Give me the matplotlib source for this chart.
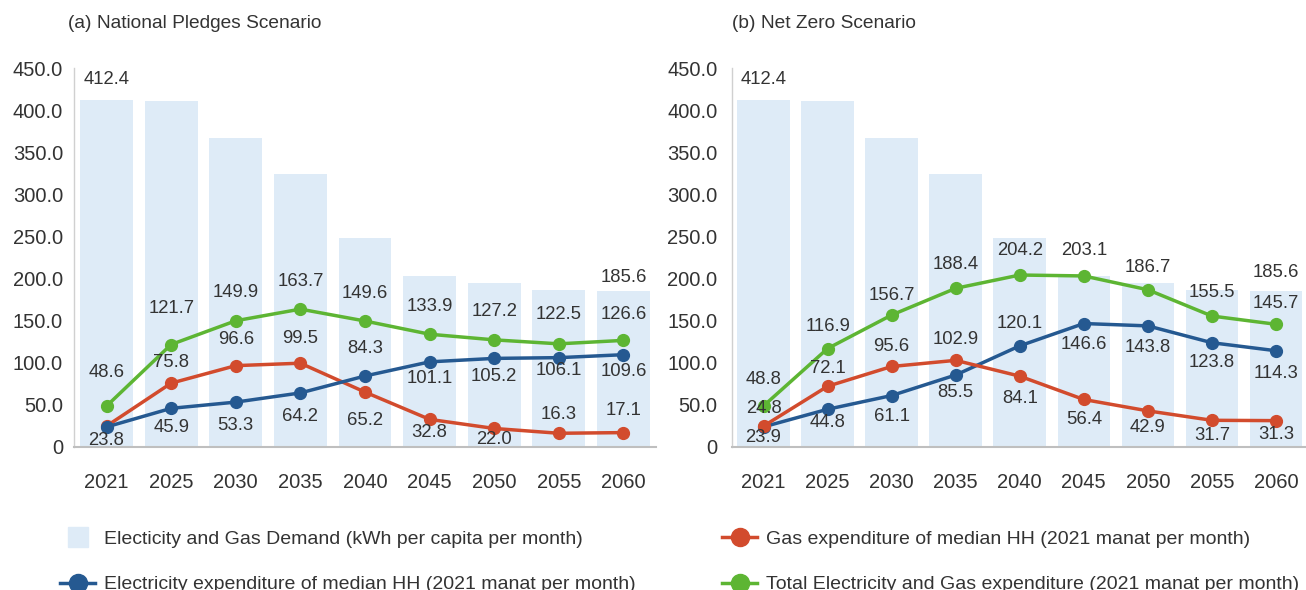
import matplotlib
matplotlib.use("Agg")
import matplotlib.pyplot as plt
from matplotlib.lines import Line2D

plt.rcParams['font.family'] = ['Liberation Sans', 'DejaVu Sans']

# categories and series
years = ["2021", "2025", "2030", "2035", "2040", "2045", "2050", "2055", "2060"]
demand = [412.4, 410.3, 366.3, 324.3, 248.5, 203.2, 195.0, 186.0, 185.6]

np_elec = [23.8, 45.9, 53.3, 64.2, 84.3, 101.1, 105.2, 106.1, 109.6]
np_gas = [24.8, 75.8, 96.6, 99.5, 65.2, 32.8, 22.0, 16.3, 17.1]
np_total = [48.6, 121.7, 149.9, 163.7, 149.6, 133.9, 127.2, 122.5, 126.6]

nz_elec = [23.9, 44.8, 61.1, 85.5, 120.1, 146.6, 143.8, 123.8, 114.3]
nz_gas = [24.8, 72.1, 95.6, 102.9, 84.1, 56.4, 42.9, 31.7, 31.3]
nz_total = [48.8, 116.9, 156.7, 188.4, 204.2, 203.1, 186.7, 155.5, 145.7]

# label offsets in pixels (positive = above the point, None = no label)
np_elec_off = [-14, -19, -23, -24, 28, -17, -18, -13, -17]
np_gas_off = [None, 21, 26, 25, -28, -13, -11, 19, 22]
np_total_off = [34, 36, 28, 28, 28, 28, 28, 29, 26]
nz_elec_off = [-11, -13, -21, -18, 22, -21, -22, -20, -23]
nz_gas_off = [18, 18, 20, 21, -22, -20, -17, -15, -14]
nz_total_off = [26, 22, 20, 24, 25, 25, 22, 24, 21]

BAR = "#deebf7"
BLUE = "#255991"
RED = "#d24b2d"
GREEN = "#5db533"
TXT = "#333333"

fig = plt.figure(figsize=(13.06, 5.9), dpi=100)
ax_a = fig.add_axes([74.2 / 1306, 1 - 447 / 590, 581.6 / 1306, 379 / 590])
ax_b = fig.add_axes([731.5 / 1306, 1 - 447 / 590, 576.5 / 1306, 379 / 590])


def label_points(ax, xs, vals, offs):
    for x, v, o in zip(xs, vals, offs):
        if o is None:
            continue
        ax.annotate(f"{v:.1f}", (x, v), xytext=(0, o), textcoords="offset pixels",
                    ha="center", va="center", fontsize=13.3, color=TXT, zorder=10)


def draw_panel(ax, elec, gas, total, offs, bar_offs, order, ypad):
    x = list(range(len(years)))
    ax.bar(x, demand, width=0.82, color=BAR, zorder=1)
    series = {"gas": (gas, RED), "elec": (elec, BLUE), "total": (total, GREEN)}
    for z, key in enumerate(order):
        vals, col = series[key]
        ax.plot(x, vals, color=col, lw=2.5, marker="o", markersize=8.5, zorder=3 + z)
    label_points(ax, x, elec, offs[0])
    label_points(ax, x, gas, offs[1])
    label_points(ax, x, total, offs[2])
    # demand labels only on first and last bar
    for i, o in bar_offs:
        ax.annotate(f"{demand[i]:.1f}", (i, demand[i]), xytext=(0, o),
                    textcoords="offset pixels", ha="center", va="center",
                    fontsize=13.3, color=TXT)

    ax.set_xlim(-0.5, len(years) - 0.5)
    ax.set_ylim(0, 450)
    ax.set_xticks(x)
    ax.set_xticklabels(years)
    ax.set_yticks(range(0, 451, 50))
    ax.set_yticklabels(["0"] + [f"{v:.1f}" for v in range(50, 451, 50)])
    ax.tick_params(axis="x", length=0, pad=19, labelsize=14.5, labelcolor=TXT)
    ax.tick_params(axis="y", length=0, pad=ypad, labelsize=14.5, labelcolor=TXT)
    for s in ("top", "right"):
        ax.spines[s].set_visible(False)
    ax.spines["left"].set_color("#d0d0d0")
    ax.spines["left"].set_linewidth(1.0)
    ax.spines["bottom"].set_color("#bfbfbf")
    ax.spines["bottom"].set_linewidth(1.5)


draw_panel(ax_a, np_elec, np_gas, np_total,
           (np_elec_off, np_gas_off, np_total_off), [(0, 20), (8, 13)],
           ["gas", "elec", "total"], 8)
draw_panel(ax_b, nz_elec, nz_gas, nz_total,
           (nz_elec_off, nz_gas_off, nz_total_off), [(0, 20), (8, 18)],
           ["elec", "gas", "total"], 10)

fig.text(68 / 1306, 1 - 24 / 590, "(a) National Pledges Scenario",
         fontsize=13.8, color=TXT, va="center", ha="left")
fig.text(731.6 / 1306, 1 - 24 / 590, "(b) Net Zero Scenario",
         fontsize=13.8, color=TXT, va="center", ha="left")

# legend in two independent columns
h_bar = Line2D([], [], marker="s", markersize=14.4, linestyle="none", color=BAR)
h_elec = Line2D([], [], color=BLUE, lw=2.5, marker="o", markersize=13)
h_gas = Line2D([], [], color=RED, lw=2.5, marker="o", markersize=13)
h_total = Line2D([], [], color=GREEN, lw=2.5, marker="o", markersize=13)

leg_kw = dict(frameon=False, loc="upper left", borderpad=0, borderaxespad=0,
              handlelength=1.8, handletextpad=0.45, labelspacing=1.45,
              fontsize=14, labelcolor=TXT)
fig.legend([h_bar, h_elec],
           ["Electicity and Gas Demand (kWh per capita per month)",
            "Electricity expenditure of median HH (2021 manat per month)"],
           bbox_to_anchor=(60 / 1306, 1 - 530 / 590), **leg_kw)
fig.legend([h_gas, h_total],
           ["Gas expenditure of median HH (2021 manat per month)",
            "Total Electricity and Gas expenditure (2021 manat per month)"],
           bbox_to_anchor=(722 / 1306, 1 - 530 / 590), **leg_kw)

fig.savefig("out.png", dpi=100)
